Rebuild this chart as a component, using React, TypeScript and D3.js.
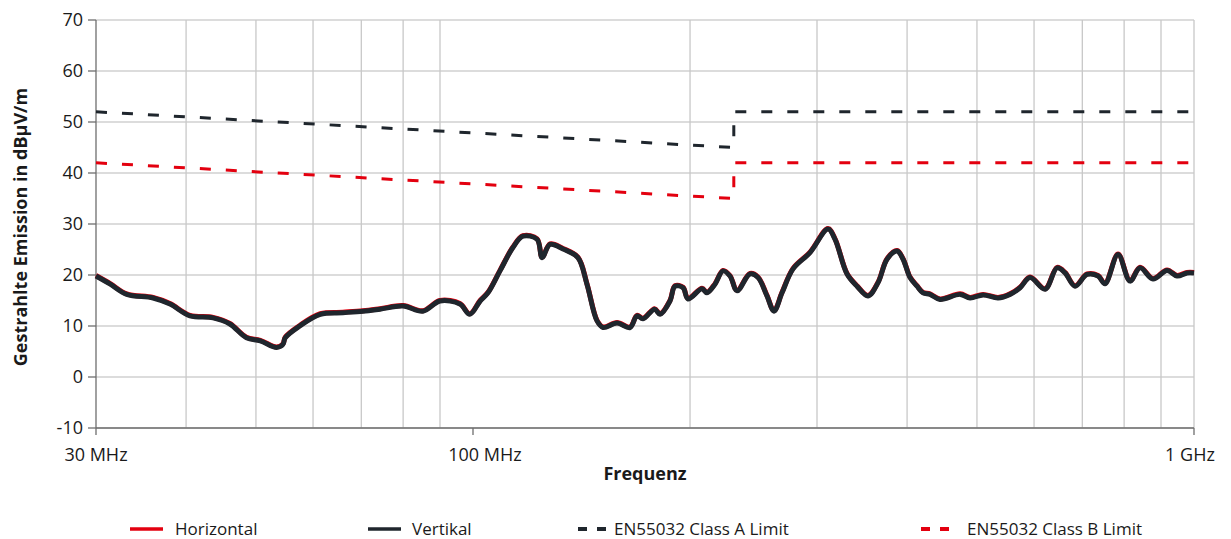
import React from "react";
import * as d3 from "d3";

// Frequencies in MHz
const freqs = [
  30, 31.4, 33.1, 36.0, 38.0, 40.5, 43.6, 46.0, 48.5, 50.7, 53.4, 54.5, 54.9, 57.5, 61.4, 66.0, 70.4, 74.3,
  80.0, 85.2, 90.0, 95.9, 99.0, 102.3, 104.9, 109.0, 113.6, 117.3, 122.7, 124.7, 127.9, 133.3, 139.8, 143.9,
  148.6, 151.5, 158.4, 165.1, 168.8, 172.1, 178.6, 181.7, 187.6, 190.6, 195.6, 198.7, 207.8, 211.1, 216.6,
  222.2, 227.2, 232.4, 242.2, 248.5, 255.7, 261.5, 268.3, 277.9, 293.4, 310.7, 317.8, 330.2, 340.9, 353.1,
  364.6, 375.2, 387.4, 394.9, 403.8, 412.9, 420.9, 430.4, 444.4, 473.9, 489.2, 509.9, 534.9, 555.7, 573.8,
  592.4, 621.5, 645.8, 662.5, 684.0, 710.7, 736.1, 752.7, 784.6, 815.3, 841.7, 877.4, 917.5, 947.3, 978.0, 1000,
];

// Vertical polarisation (dBµV/m)
const vertical = [
  19.8, 18.2, 16.2, 15.5, 14.3, 12.0, 11.6, 10.4, 7.7, 7.1, 5.8, 6.4, 7.7, 10.0, 12.3, 12.6, 12.9, 13.3,
  13.9, 12.9, 14.9, 14.3, 12.3, 14.9, 16.5, 20.8, 25.4, 27.6, 27.0, 23.4, 26.0, 25.1, 23.4, 18.2,
  11.0, 9.7, 10.6, 9.7, 12.0, 11.4, 13.3, 12.3, 14.9, 17.8, 17.5, 15.3, 17.3, 16.5, 18.2,
  20.8, 19.8, 16.9, 20.2, 19.5, 15.9, 12.9, 16.5, 21.2, 24.4, 29.0, 27.0, 20.2, 17.8, 15.9,
  18.5, 23.1, 24.7, 23.1, 19.5, 17.8, 16.5, 16.2, 15.2, 16.2, 15.5, 16.1, 15.5, 16.2, 17.5,
  19.5, 17.2, 21.4, 20.4, 17.8, 20.1, 19.8, 18.3, 24.0, 18.8, 21.4, 19.2, 20.9, 19.8, 20.4, 20.4,
];

// Horizontal polarisation (dBµV/m)
const horizontal = [
  19.9, 18.3, 16.3, 15.6, 14.4, 12.1, 11.7, 10.5, 7.8, 7.2, 5.9, 6.5, 7.8, 10.1, 12.4, 12.7, 13.0, 13.4,
  14.0, 13.0, 15.0, 14.4, 12.4, 15.0, 16.6, 20.9, 25.5, 27.7, 27.1, 23.5, 26.1, 25.2, 23.5, 18.3,
  11.1, 9.8, 10.7, 9.8, 12.1, 11.5, 13.4, 12.4, 15.0, 17.9, 17.6, 15.4, 17.4, 16.6, 18.3,
  20.9, 19.9, 17.0, 20.3, 19.6, 16.0, 13.0, 16.6, 21.3, 24.5, 29.1, 27.1, 20.3, 17.9, 16.0,
  18.6, 23.2, 24.8, 23.2, 19.6, 17.9, 16.6, 16.3, 15.3, 16.3, 15.6, 16.2, 15.6, 16.3, 17.6,
  19.6, 17.3, 21.5, 20.5, 17.9, 20.2, 19.9, 18.4, 24.1, 18.9, 21.5, 19.3, 21.0, 19.9, 20.5, 20.5,
];

const limitFreqs = [30, 230, 230, 1000];
const classA = [52, 45, 52, 52];
const classB = [42, 35, 42, 42];

const yTicks = [-10, 0, 10, 20, 30, 40, 50, 60, 70];
const xGrid = [40, 50, 60, 70, 80, 90, 200, 300, 400, 500, 600, 700, 800, 900];
const xLabelTicks = [30, 100, 1000];
const xLabels = ["30 MHz", "100 MHz", "1 GHz"];

const legendItems = [
  { label: "Horizontal", color: "#e3000f", dashed: false },
  { label: "Vertikal", color: "#1f262d", dashed: false },
  { label: "EN55032 Class A Limit", color: "#1f262d", dashed: true },
  { label: "EN55032 Class B Limit", color: "#e3000f", dashed: true },
];

const W = 1231;
const H = 539;
const M = { left: 96, right: 37, top: 20, bottom: 111 };
const FONT = "'Open Sans', 'Noto Sans', sans-serif";
const DARK = "#1f262d";
const RED = "#e3000f";

export default function App() {
  const x = d3.scaleLog().domain([30, 1000]).range([M.left, W - M.right]);
  const y = d3.scaleLinear().domain([-10, 70]).range([H - M.bottom, M.top]);

  const lineGen = d3
    .line<[number, number]>()
    .x((d) => x(d[0]))
    .y((d) => y(d[1]))
    .curve(d3.curveCatmullRom.alpha(0.5));
  const limitGen = d3
    .line<[number, number]>()
    .x((d) => x(d[0]))
    .y((d) => y(d[1]));

  const hPts = freqs.map((f, i) => [f, horizontal[i]] as [number, number]);
  const vPts = freqs.map((f, i) => [f, vertical[i]] as [number, number]);
  const aPts = limitFreqs.map((f, i) => [f, classA[i]] as [number, number]);
  const bPts = limitFreqs.map((f, i) => [f, classB[i]] as [number, number]);

  const [x0, x1] = x.range();
  const [yb, yt] = y.range();

  const legendSym = [130, 368, 578, 921];
  const legendText = [175, 412, 614, 967];
  const legendY = 529;

  return (
    <svg
      width={W}
      height={H}
      style={{ position: "absolute", left: 0, top: 0, background: "#fff" }}
      fontFamily={FONT}
    >
      {yTicks.map((t) => (
        <line key={"gy" + t} x1={x0} x2={x1} y1={y(t)} y2={y(t)} stroke="#d0d0d0" strokeWidth={1.3} />
      ))}
      {xGrid.map((t) => (
        <line key={"gx" + t} x1={x(t)} x2={x(t)} y1={yt} y2={yb} stroke="#c8c8c8" strokeWidth={1.3} />
      ))}
      <line x1={x(1000)} x2={x(1000)} y1={yt} y2={yb} stroke="#c8c8c8" strokeWidth={1.3} />
      <line x1={x0} x2={x0} y1={yt} y2={yb} stroke="#6e6e6e" strokeWidth={1.3} />
      <line x1={x0} x2={x1} y1={yb} y2={yb} stroke="#6e6e6e" strokeWidth={1.3} />
      {yTicks.map((t) => (
        <line key={"ty" + t} x1={x0 - 8} x2={x0} y1={y(t)} y2={y(t)} stroke="#6e6e6e" strokeWidth={1.3} />
      ))}
      {xLabelTicks.map((t) => (
        <line key={"tx" + t} x1={x(t)} x2={x(t)} y1={yb} y2={yb + 7} stroke="#6e6e6e" strokeWidth={1.3} />
      ))}
      {yTicks.map((t) => (
        <text key={"ly" + t} x={x0 - 13} y={y(t)} dy="0.35em" textAnchor="end" fontSize={18} fill="#1a1a1a">
          {t}
        </text>
      ))}
      {xLabelTicks.map((t, i) => (
        <text
          key={"lx" + t}
          x={x(t) + (i === 1 ? 12 : i === 2 ? -4 : 0)}
          y={yb + 27}
          dy="0.35em"
          textAnchor="middle"
          fontSize={18}
          fill="#1a1a1a"
        >
          {xLabels[i]}
        </text>
      ))}
      <text
        transform={`translate(21,${(yt + yb) / 2 + 3}) rotate(-90)`}
        textAnchor="middle"
        dy="0.35em"
        fontSize={18}
        fontWeight="bold"
        fill="#1a1a1a"
      >
        Gestrahlte Emission in dBµV/m
      </text>
      <text x={(x0 + x1) / 2} y={474} dy="0.35em" textAnchor="middle" fontSize={18} fontWeight="bold" fill="#1a1a1a">
        Frequenz
      </text>

      <path d={limitGen(aPts) || ""} fill="none" stroke={DARK} strokeWidth={3} strokeDasharray="11 15" />
      <path d={limitGen(bPts) || ""} fill="none" stroke={RED} strokeWidth={3} strokeDasharray="11 15" />

      <path d={lineGen(hPts) || ""} fill="none" stroke={RED} strokeWidth={5} strokeLinejoin="round" />
      <path d={lineGen(vPts) || ""} fill="none" stroke={DARK} strokeWidth={5} strokeLinejoin="round" />

      {legendItems.map((it, i) => (
        <g key={it.label}>
          {it.dashed ? (
            <line
              x1={legendSym[i]}
              x2={legendSym[i] + 29}
              y1={legendY}
              y2={legendY}
              stroke={it.color}
              strokeWidth={4}
              strokeDasharray="9 10"
            />
          ) : (
            <line
              x1={legendSym[i]}
              x2={legendSym[i] + 33}
              y1={legendY}
              y2={legendY}
              stroke={it.color}
              strokeWidth={3.5}
            />
          )}
          <text x={legendText[i]} y={legendY} dy="0.35em" fontSize={17} fill="#1a1a1a">
            {it.label}
          </text>
        </g>
      ))}
    </svg>
  );
}
